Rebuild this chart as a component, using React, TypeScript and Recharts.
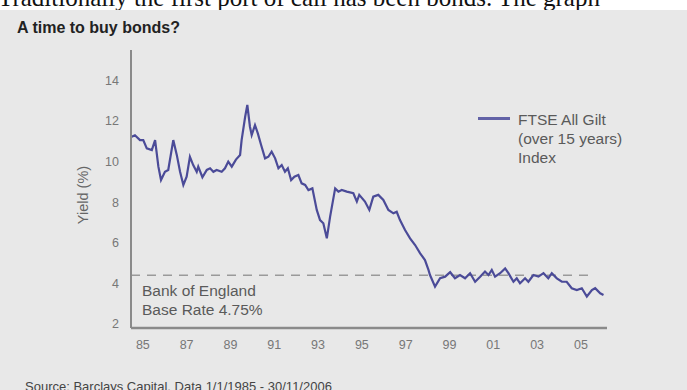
import { Line, LineChart, ReferenceLine, XAxis, YAxis } from "recharts";

// FTSE All Gilt (over 15 years) yield
const dates = [
  1985.03, 1985.18, 1985.41, 1985.56, 1985.72, 1985.95, 1986.1, 1986.25, 1986.37, 1986.55,
  1986.7, 1986.93, 1987.09, 1987.24, 1987.39, 1987.54, 1987.69, 1987.84, 1988.0, 1988.07,
  1988.26, 1988.46, 1988.61, 1988.76, 1988.91, 1989.14, 1989.29, 1989.44, 1989.6, 1989.79,
  1989.98, 1990.05, 1990.21, 1990.31, 1990.43, 1990.51, 1990.66, 1990.79, 1990.94, 1991.12,
  1991.27, 1991.42, 1991.58, 1991.73, 1991.88, 1992.03, 1992.16, 1992.31, 1992.46, 1992.64,
  1992.79, 1992.95, 1993.1, 1993.28, 1993.48, 1993.63, 1993.78, 1993.94, 1994.09, 1994.32,
  1994.47, 1994.62, 1994.85, 1995.15, 1995.31, 1995.42, 1995.68, 1995.88, 1996.06, 1996.29,
  1996.52, 1996.75, 1996.98, 1997.13, 1997.28, 1997.51, 1997.74, 1997.97, 1998.2, 1998.42,
  1998.58, 1998.65, 1998.88, 1999.11, 1999.34, 1999.57, 1999.79, 2000.02, 2000.25, 2000.48,
  2000.71, 2000.94, 2001.16, 2001.32, 2001.47, 2001.62, 2001.85, 2002.08, 2002.23, 2002.46,
  2002.61, 2002.76, 2002.99, 2003.14, 2003.37, 2003.6, 2003.83, 2004.05, 2004.21, 2004.44,
  2004.67, 2004.89, 2005.12, 2005.35, 2005.58, 2005.81, 2006.04, 2006.19, 2006.42, 2006.57,
];
const yields = [
  11.22, 11.3, 11.06, 11.06, 10.65, 10.57, 11.06, 9.75, 9.09, 9.5,
  9.59, 11.06, 10.33, 9.5, 8.85, 9.26, 10.24, 9.83, 9.5, 9.75,
  9.23, 9.59, 9.67, 9.5, 9.59, 9.5, 9.67, 10.0, 9.75, 10.1,
  10.33, 11.06, 12.2, 12.79, 11.72, 11.31, 11.8, 11.39, 10.82, 10.16,
  10.24, 10.49, 10.16, 9.67, 9.83, 9.5, 9.67, 9.09, 9.26, 9.34,
  8.93, 8.85, 8.6, 8.68, 7.62, 7.12, 6.96, 6.22, 7.29, 8.68,
  8.52, 8.6, 8.52, 8.44, 8.03, 8.36, 8.03, 7.62, 8.27, 8.36,
  8.11, 7.62, 7.45, 7.53, 7.12, 6.63, 6.22, 5.89, 5.48, 5.15,
  4.66, 4.41, 3.84, 4.25, 4.33, 4.55, 4.25, 4.41, 4.25, 4.5,
  4.08, 4.33, 4.58, 4.41, 4.66, 4.33, 4.5, 4.74, 4.5, 4.08,
  4.25, 4.0, 4.25, 4.08, 4.41, 4.33, 4.5, 4.25, 4.5, 4.25,
  4.08, 4.08, 3.76, 3.67, 3.76, 3.35, 3.67, 3.76, 3.51, 3.43,
];

const yTicks = [2, 4, 6, 8, 10, 12, 14];
const xTickYears = [1985, 1987, 1989, 1991, 1993, 1995, 1997, 1999, 2001, 2003, 2005];
const baseRateLevel = 4.4; // where the dashed "4.75%" line is actually drawn

const data = dates.map((t, i) => ({ t, y: yields[i] }));
// labels sit roughly mid-year on the original
const xTicks = xTickYears.map((y) => y + 0.54);
const yearLabel = (v: number) => String(Math.floor(v) % 100).padStart(2, "0");

const sans = "'Liberation Sans', Arial, sans-serif";
const grey = "#5a5a5a";

export default function App() {
  return (
    <div
      style={{
        position: "absolute",
        left: 0,
        top: 0,
        width: 687,
        height: 390,
        background: "#e8e8e8",
        overflow: "hidden",
        fontFamily: sans,
      }}
    >
      {/* clipped line of body text above the figure */}
      <div style={{ position: "absolute", left: 0, top: 0, width: 687, height: 9.5, background: "#fff", overflow: "hidden" }}>
        <div
          style={{
            position: "absolute",
            left: -2,
            top: -14.9,
            fontFamily: "'Liberation Serif', serif",
            fontSize: 25,
            lineHeight: "25px",
            whiteSpace: "nowrap",
            color: "#111",
          }}
        >
          Traditionally the first port of call has been bonds. The graph
        </div>
      </div>

      <div style={{ position: "absolute", left: 17, top: 18, fontSize: 16, lineHeight: "20px", fontWeight: 700, color: "#222" }}>
        A time to buy bonds?
      </div>

      <LineChart width={687} height={390} data={data} margin={{ top: 50, right: 80, bottom: 32, left: 0 }}>
        <XAxis
          type="number"
          dataKey="t"
          domain={[1985, 2006.73]}
          ticks={xTicks}
          tickFormatter={yearLabel}
          allowDataOverflow
          height={30}
          axisLine={{ stroke: "#8a8a8a", strokeWidth: 2.5 }}
          tickLine={false}
          tickMargin={6}
          tick={{ fill: "#777", fontSize: 12.5, fontFamily: sans }}
        />
        <YAxis
          type="number"
          domain={[1.8, 15.5]}
          ticks={yTicks}
          allowDataOverflow
          width={131}
          axisLine={{ stroke: "#8a8a8a", strokeWidth: 2 }}
          tickLine={false}
          tickMargin={6}
          tick={{ fill: "#777", fontSize: 12.5, fontFamily: sans }}
        />
        <ReferenceLine
          segment={[
            { x: 1985, y: baseRateLevel },
            { x: 2006.14, y: baseRateLevel },
          ]}
          stroke="#9a9a9a"
          strokeWidth={1.5}
          strokeDasharray="9 7"
        />
        <Line
          type="linear"
          dataKey="y"
          stroke="#4b4b98"
          strokeWidth={2.2}
          dot={false}
          isAnimationActive={false}
        />
      </LineChart>

      <div
        style={{
          position: "absolute",
          left: 83,
          top: 195,
          transform: "translate(-50%, -50%) rotate(-90deg)",
          fontSize: 14.5,
          lineHeight: "17px",
          color: "#666",
          whiteSpace: "nowrap",
        }}
      >
        Yield (%)
      </div>

      {/* legend */}
      <div style={{ position: "absolute", left: 478, top: 116.5, width: 32, height: 3, background: "#6262a6" }} />
      <div style={{ position: "absolute", left: 518, top: 109.5, fontSize: 15.5, lineHeight: "19.3px", color: grey }}>
        FTSE All Gilt
        <br />
        (over 15 years)
        <br />
        Index
      </div>

      <div style={{ position: "absolute", left: 142, top: 282.3, fontSize: 15.5, lineHeight: "18.3px", color: grey }}>
        Bank of England
        <br />
        Base Rate 4.75%
      </div>

      <div style={{ position: "absolute", left: 25, top: 379, fontSize: 13, lineHeight: "15px", color: "#444", whiteSpace: "nowrap" }}>
        Source: Barclays Capital. Data 1/1/1985 - 30/11/2006
      </div>
    </div>
  );
}
